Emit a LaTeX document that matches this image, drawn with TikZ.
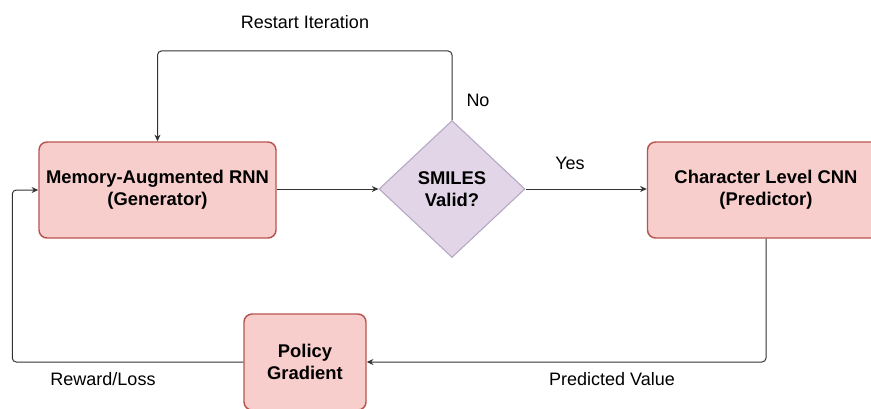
\documentclass[tikz,border=0pt]{standalone}
\usepackage{fontspec}
\setmainfont{Liberation Sans}
\usetikzlibrary{shapes.geometric,arrows.meta}

\definecolor{boxfill}{HTML}{F8CECC}
\definecolor{boxline}{HTML}{B85450}
\definecolor{checkfill}{HTML}{E1D5E7}
\definecolor{checkline}{HTML}{B4A7C4}
\definecolor{wire}{HTML}{333333}

\begin{document}
\begin{tikzpicture}[x=0.75pt,y=-0.75pt,
  stage/.style={draw=boxline,fill=boxfill,line width=1.1pt,rounded corners=6pt,
    align=center,inner sep=0pt,minimum width=177.75pt,minimum height=72pt,
    font=\fontsize{13.8}{16.5}\selectfont\bfseries},
  check/.style={diamond,draw=checkline,fill=checkfill,line width=0.8pt,
    align=center,inner sep=0pt,minimum width=109.5pt,minimum height=102.75pt,
    font=\fontsize{13.8}{16.5}\selectfont\bfseries},
  flow/.style={draw=wire,line width=0.75pt,rounded corners=3pt,
    -{Stealth[length=5pt,width=4.5pt]}},
  tag/.style={font=\fontsize{13.5}{16.5}\selectfont,inner sep=0pt}]

% Page frame
\clip (0,0) rectangle (871,408);

% Main blocks
\node[stage] (rnn) at (157.5,190) {Memory-Augmented RNN\\(Generator)};
\node[check] (dec) at (452,189) {SMILES\\Valid?};
\node[stage] (cnn) at (766,190) {Character Level CNN\\(Predictor)};
\node[stage,minimum width=91.5pt] (pg) at (305,362) {Policy\\Gradient};

% Connectors
\draw[flow] (dec.west -| rnn.east) -- (dec.west);
\draw[flow] (dec.east) -- (dec.east -| cnn.west);
\draw[flow] (dec.north) -- ++(0,-69) -| (rnn.north);
\draw[flow] (cnn.south) |- (pg.east);
\draw[flow] (pg.west) -- ++(-231,0) |- (rnn.west);

% Labels
\node[tag] (restart) at (305,22) {Restart Iteration};
\node[tag] (no) at (478,100) {No};
\node[tag] (yes) at (570,163) {Yes};
\node[tag] (reward) at (103,379) {Reward/Loss};
\node[tag] (predicted) at (612,379) {Predicted Value};

\end{tikzpicture}
\end{document}
